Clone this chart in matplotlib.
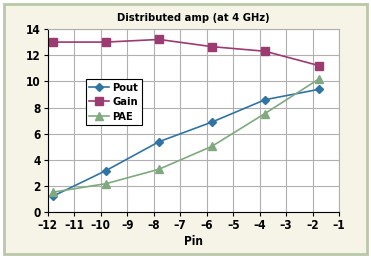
import matplotlib.pyplot as plt
from matplotlib.patches import Rectangle

# values
pin = [-11.8, -9.8, -7.8, -5.8, -3.8, -1.75]
pout = [1.25, 3.2, 5.4, 6.9, 8.6, 9.4]
gain = [13.0, 13.0, 13.2, 12.65, 12.3, 11.2]
pae = [1.55, 2.2, 3.3, 5.05, 7.55, 10.2]

xticks = list(range(-12, 0))
yticks = list(range(0, 15, 2))

plt.rcParams['font.family'] = ['DejaVu Sans']
plt.rcParams['font.stretch'] = 'condensed'
plt.rcParams['font.weight'] = 'semibold'

fig = plt.figure(figsize=(3.71, 2.61), dpi=100, facecolor='white')
fig.patches.append(Rectangle((0.01, 0.028), 0.98, 0.957, transform=fig.transFigure,
                             facecolor='#f6f4e7', edgecolor='#b9c8a8', linewidth=2, zorder=-1))
ax = fig.add_axes([0.129, 0.186, 0.785, 0.703])
ax.set_facecolor('white')

ax.plot(pin, pout, color='#2f74a2', marker='D', markersize=4.5, linewidth=1.2, label='Pout')
ax.plot(pin, gain, color='#9c3a72', marker='s', markersize=5.5, linewidth=1.2, label='Gain')
ax.plot(pin, pae, color='#80a97f', marker='^', markersize=6, linewidth=1.2, label='PAE')

ax.set_xlim(-12, -1)
ax.set_ylim(0, 14)
ax.set_xticks(xticks)
ax.set_yticks(yticks)
ax.set_xticklabels(['\u2013%d' % -v for v in xticks])
ax.grid(True, color='#b0b0b0', linewidth=0.8)
ax.set_axisbelow(True)
for s in ['top', 'right']:
    ax.spines[s].set_color('#b0b0b0')
for s in ['left', 'bottom']:
    ax.spines[s].set_color('black')
ax.tick_params(labelsize=8.5, length=3, width=0.8, pad=2)

ax.set_title('Distributed amp (at 4 GHz)', fontsize=8, fontweight='bold', pad=6)
ax.set_xlabel('Pin', fontsize=8.5, fontweight='bold', labelpad=2)

leg = ax.legend(loc='upper left', bbox_to_anchor=(0.13, 0.725), fontsize=8,
                fancybox=False, edgecolor='black', framealpha=1,
                handlelength=1.8, borderpad=0.3, labelspacing=0.4, handletextpad=0.3,
                borderaxespad=0)
leg.get_frame().set_linewidth(0.8)

plt.savefig('out.png', dpi=100)
